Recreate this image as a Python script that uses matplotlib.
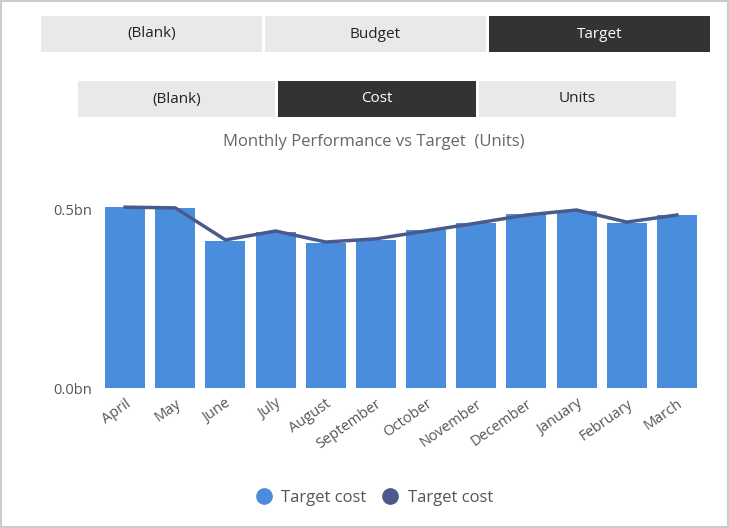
import matplotlib.pyplot as plt
from matplotlib.patches import Rectangle

months = ["April", "May", "June", "July", "August", "September", "October",
          "November", "December", "January", "February", "March"]
bar_vals = [0.508, 0.506, 0.413, 0.438, 0.407, 0.416, 0.444, 0.463, 0.489, 0.497, 0.463, 0.486]
line_vals = [0.508, 0.506, 0.416, 0.441, 0.410, 0.419, 0.441, 0.463, 0.486, 0.500, 0.466, 0.486]

W, H = 729, 528
fig = plt.figure(figsize=(W / 100, H / 100), dpi=100)
fig.patches.append(Rectangle((1 / W, 1 / H), 1 - 2 / W, 1 - 2 / H, transform=fig.transFigure,
                             fill=False, edgecolor="#cccccc", lw=1.5))

def button(x0, x1, y0, y1, text, active):
    fc = "#333333" if active else "#e9e9e9"
    tc = "white" if active else "#222222"
    fig.patches.append(Rectangle((x0 / W, 1 - y1 / H), (x1 - x0) / W, (y1 - y0) / H,
                                 transform=fig.transFigure, facecolor=fc, edgecolor="none"))
    fig.text((x0 + x1) / 2 / W, 1 - (y0 + y1) / 2 / H, text, color=tc, fontsize=11,
             ha="center", va="center", family="Open Sans")

button(41, 262, 16, 52, "(Blank)", False)
button(265, 486, 16, 52, "Budget", False)
button(489, 710, 16, 52, "Target", True)
button(78, 275, 81, 117, "(Blank)", False)
button(278, 476, 81, 117, "Cost", True)
button(479, 676, 81, 117, "Units", False)

fig.text(374 / W, 1 - 142 / H, "Monthly Performance vs Target  (Units)", ha="center", va="center",
         fontsize=12, color="#666666", family="Open Sans")

ax = fig.add_axes([100 / W, 1 - 388 / H, 602 / W, 220 / H])
x = range(len(months))
ax.bar(x, bar_vals, width=0.8, color="#4a8ddc", label="Target cost")
ax.plot(x, line_vals, color="#4a5a8a", lw=2.5, label="Target cost")
ax.set_xlim(-0.5, len(months) - 0.5)
ax.set_ylim(0, 0.5 * 220 / 178)
ax.set_yticks([0, 0.5])
ax.set_yticklabels(["0.0bn", "0.5bn"], fontsize=10.5, color="#555555", family="Open Sans")
ax.set_xticks(list(x))
ax.set_xticklabels(months, rotation=35, ha="right", rotation_mode="anchor",
                   fontsize=10.5, color="#555555", family="Open Sans")
ax.tick_params(length=0, pad=6)
for s in ax.spines.values():
    s.set_visible(False)

h, l = ax.get_legend_handles_labels()
from matplotlib.lines import Line2D
handles = [Line2D([0], [0], marker="o", ls="none", color="#4a8ddc", markersize=11),
           Line2D([0], [0], marker="o", ls="none", color="#4a5a8a", markersize=11)]
fig.legend(handles, ["Target cost", "Target cost"], loc="center", bbox_to_anchor=(370 / W, 1 - 498 / H),
           ncol=2, frameon=False, handletextpad=0.05, columnspacing=0.4,
           prop={"family": "Open Sans", "size": 12}, labelcolor="#555555")

fig.savefig("out.png", dpi=100)
